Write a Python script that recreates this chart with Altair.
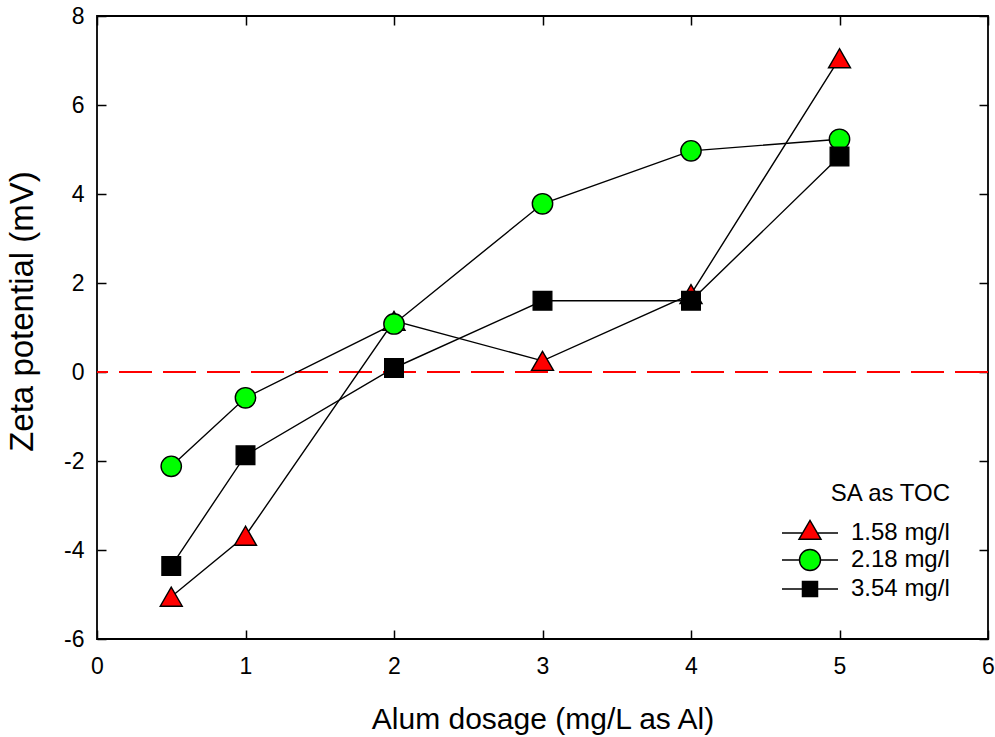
import altair as alt
import pandas as pd

# Alum dosage (mg/L as Al) and measured zeta potential (mV) for each SA level
dosage = [0.5, 1, 2, 3, 4, 5]
zeta_158 = [-5.05, -3.68, 1.15, 0.25, 1.75, 7.05]
zeta_218 = [-2.12, -0.58, 1.08, 3.78, 4.97, 5.23]
zeta_354 = [-4.36, -1.87, 0.09, 1.60, 1.60, 4.84]
series = ["1.58 mg/l", "2.18 mg/l", "3.54 mg/l"]

x_ticks = [0, 1, 2, 3, 4, 5, 6]
y_ticks = [-6, -4, -2, 0, 2, 4, 6, 8]

marker_shapes = ["triangle-up", "circle", "square"]
marker_sizes = [484, 346, 225]
marker_fills = ["#ff0000", "#00ff00", "#000000"]

# legend glyphs: a short line with the marker in the middle
legend_shapes = [
    "M-2,0L-0.52,0M0.52,0L2,0M-0.79,0.45L0.79,0.45L0,-0.9Z",
    "M-2,0L-0.75,0M0.75,0L2,0M-0.75,0A0.75,0.75 0 1,0 0.75,0A0.75,0.75 0 1,0 -0.75,0Z",
    "M-2,0L-0.54,0M0.54,0L2,0M-0.54,-0.54L0.54,-0.54L0.54,0.54L-0.54,0.54Z",
]

rows = []
for name, vals in zip(series, [zeta_158, zeta_218, zeta_354]):
    for d, z in zip(dosage, vals):
        rows.append({"dose": d, "zeta": z, "series": name})
df = pd.DataFrame(rows)

FONT = "Liberation Sans"
x_scale = alt.Scale(domain=[0, 6], nice=False, zero=False)
y_scale = alt.Scale(domain=[-6, 8], nice=False, zero=False)

axis_common = dict(
    offset=-9, tickSize=9, tickWidth=1.5, tickColor="black", domain=False,
    grid=False, labelFont=FONT, labelFontSize=23, labelColor="black",
    titleFont=FONT, titleFontSize=30, titleFontWeight="normal",
    titleColor="black", labelFlush=False,
)

x_bottom = alt.Axis(orient="bottom", values=x_ticks, labelPadding=16,
                    titlePadding=26, labelExpr="datum.value + ''",
                    title="Alum dosage (mg/L as Al)", **axis_common)
y_left = alt.Axis(orient="left", values=y_ticks, labelPadding=13,
                  titlePadding=24, labelExpr="datum.value + ''",
                  title="Zeta potential (mV)", titleY=295,
                  **{**axis_common, "titleFontSize": 33})
x_top = alt.Axis(orient="top", values=x_ticks, labels=False, title=None,
                 **axis_common)
y_right = alt.Axis(orient="right", values=y_ticks, labels=False, title=None,
                   **axis_common)

base = alt.Chart(df)

zero_line = alt.Chart(df).mark_rule(color="#ff0000", strokeWidth=1,
                                    strokeDash=[33, 11]).encode(
    y=alt.datum(0, scale=y_scale, axis=None)
)

lines = base.mark_line(color="black", strokeWidth=1.4).encode(
    x=alt.X("dose:Q", scale=x_scale, axis=x_bottom),
    y=alt.Y("zeta:Q", scale=y_scale, axis=y_left),
    detail="series:N",
)

points = base.mark_point(filled=True, opacity=1, stroke="black",
                         strokeWidth=1.4).encode(
    x=alt.X("dose:Q", scale=x_scale, axis=x_top),
    y=alt.Y("zeta:Q", scale=y_scale, axis=y_right),
    shape=alt.Shape("series:N", scale=alt.Scale(domain=series, range=marker_shapes),
                    legend=None),
    size=alt.Size("series:N", scale=alt.Scale(domain=series, range=marker_sizes),
                  legend=None),
    fill=alt.Fill("series:N", scale=alt.Scale(domain=series, range=marker_fills),
                  legend=None),
)

legend_title = "SA as TOC"
legend_layer = base.mark_point(filled=True, opacity=0, strokeWidth=1.4).encode(
    shape=alt.Shape("series:N", scale=alt.Scale(domain=series, range=legend_shapes),
                    title=legend_title),
    fill=alt.Fill("series:N", scale=alt.Scale(domain=series, range=marker_fills),
                  title=legend_title),
    stroke=alt.Stroke("series:N",
                      scale=alt.Scale(domain=series, range=["black"] * 3),
                      title=legend_title),
)

chart = alt.layer(zero_line, lines, points, legend_layer).resolve_scale(
    shape="independent", fill="independent", size="independent",
    stroke="independent"
).resolve_axis(
    x="independent", y="independent"
).properties(
    width=891, height=623,
    padding={"left": 97, "top": 16, "right": 7, "bottom": 98},
    autosize=alt.AutoSizeParams(type="none"),
).configure_view(
    stroke="black", strokeWidth=1.8
).configure_legend(
    orient="none", legendX=698, legendY=466, padding=0,
    titleFont=FONT, titleFontSize=24, titleFontWeight="normal",
    titleColor="black", titleAnchor="end", titlePadding=12,
    labelFont=FONT, labelFontSize=24, labelColor="black", labelOffset=26,
    symbolSize=784, symbolStrokeWidth=1.4, symbolOpacity=1, rowPadding=0,
)

chart.save("out.html", embed_options={"renderer": "svg", "actions": False})
